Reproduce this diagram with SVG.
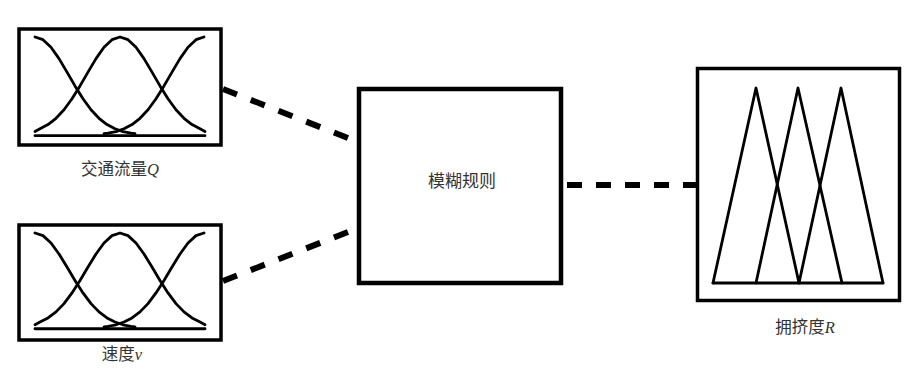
<svg xmlns="http://www.w3.org/2000/svg" xmlns:xlink="http://www.w3.org/1999/xlink" width="905" height="369" viewBox="0 0 905 369">
  <style>
    .box { fill: #fff; stroke: #000; stroke-width: 3.5; }
    .core { fill: #fff; stroke: #000; stroke-width: 4.5; }
    .mf { fill: none; stroke: #000; stroke-width: 2.8; stroke-linejoin: round; stroke-linecap: round; }
    .link { fill: none; stroke: #000; stroke-width: 6; }
    .lbl { font-family: "Noto Sans CJK SC", "Noto Sans CJK JP", sans-serif; font-size: 16.5px; fill: #333; text-anchor: middle; }
    .var { font-family: "Liberation Serif", serif; font-style: italic; }
  </style>
  <defs>
    <!-- three gaussian membership functions, peak at y=0, foot at y=98 -->
    <g id="bells" class="mf">
      <polyline vector-effect="non-scaling-stroke" points="35,0 43,2.7 51,10.3 59,21.6 67,35.1 75,48.9 83,61.8 91,72.8 99,81.3 107,87.6 115,91.8 123,94.6 131,96.2 135,96.7"/>
      <polyline vector-effect="non-scaling-stroke" points="35,94.5 40,91.8 48,87.6 56,81.3 64,72.8 72,61.8 80,48.9 88,35.1 96,21.6 104,10.3 112,2.7 120,0 128,2.7 136,10.3 144,21.6 152,35.1 160,48.9 168,61.8 176,72.8 184,81.3 192,87.6 200,91.8 205,94.5"/>
      <polyline vector-effect="non-scaling-stroke" points="204,0 196,2.7 188,10.3 180,21.6 172,35.1 164,48.9 156,61.8 148,72.8 140,81.3 132,87.6 124,91.8 116,94.6 108,96.2 104,96.7"/>
      <line vector-effect="non-scaling-stroke" x1="35" y1="98.7" x2="205" y2="98.7"/>
    </g>
  </defs>

  <g id="connectors">
    <line class="link" x1="223" y1="89" x2="348" y2="138" stroke-dasharray="15 14.8"/>
    <line class="link" x1="223" y1="281" x2="348" y2="232" stroke-dasharray="15 14.8"/>
    <line class="link" x1="567" y1="185" x2="697" y2="185" stroke-dasharray="15 14"/>
  </g>

  <g id="flow-input">
    <rect class="box" x="19" y="29" width="202" height="116"/>
    <use xlink:href="#bells" transform="translate(0,37)"/>
    <text class="lbl" x="120" y="175">交通流量<tspan class="var">Q</tspan></text>
  </g>

  <g id="speed-input">
    <rect class="box" x="19" y="225" width="202" height="115"/>
    <use xlink:href="#bells" transform="translate(0,233) scale(1,0.97)"/>
    <text class="lbl" x="122" y="360">速度<tspan class="var">v</tspan></text>
  </g>

  <g id="fuzzy-rules">
    <rect class="core" x="359" y="89" width="202" height="194"/>
    <text class="lbl" x="462" y="187" style="font-size:17px">模糊规则</text>
  </g>

  <g id="congestion-output">
    <rect class="box" x="697.5" y="68.5" width="202" height="232"/>
    <polyline class="mf" points="713,283 756,88 799,283"/>
    <polyline class="mf" points="756,283 798,88 842,283"/>
    <polyline class="mf" points="799,283 841,88 883,283"/>
    <line class="mf" x1="713" y1="283" x2="883" y2="283"/>
    <text class="lbl" x="805" y="333">拥挤度<tspan class="var">R</tspan></text>
  </g>
</svg>
